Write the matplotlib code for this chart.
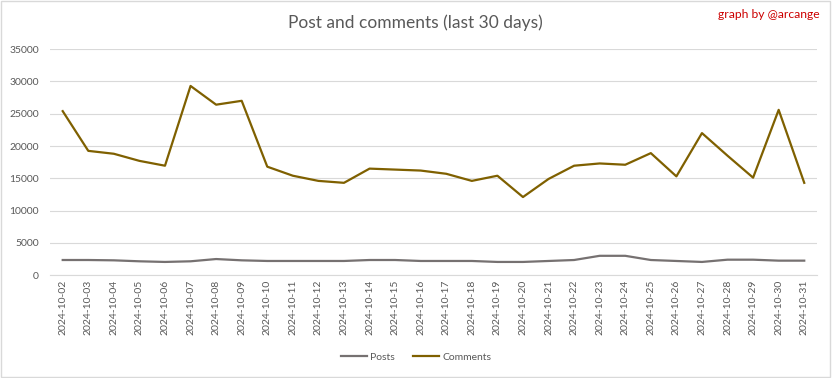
import matplotlib.pyplot as plt
from matplotlib.patches import Rectangle

dates = ["2024-10-%02d" % d for d in range(2, 32)]
posts = [2350, 2350, 2300, 2150, 2050, 2150, 2500, 2300, 2200, 2200,
         2200, 2200, 2350, 2350, 2200, 2200, 2200, 2050, 2050, 2200,
         2350, 3000, 3000, 2350, 2200, 2050, 2400, 2400, 2250, 2250]
comments = [25400, 19250, 18800, 17700, 16950, 29300, 26400, 27000, 16800, 15400,
            14600, 14300, 16500, 16350, 16200, 15700, 14600, 15400, 12100, 14900,
            16950, 17300, 17100, 18900, 15300, 22000, 18500, 15100, 25600, 14300]

plt.rcParams['font.family'] = ['Lato', 'DejaVu Sans']

fig = plt.figure(figsize=(8.32, 3.78), dpi=100)
ax = fig.add_axes([0.060, 0.272, 0.922, 0.598])

x = list(range(len(dates)))
ax.plot(x, posts, color="#767171", lw=1.6, label="Posts")
ax.plot(x, comments, color="#7f6000", lw=1.6, label="Comments")

ax.set_xlim(-0.5, len(dates) - 0.5)
ax.set_ylim(0, 35000)
ax.set_yticks(range(0, 35001, 5000))
ax.set_xticks(x)
ax.set_xticklabels(dates, rotation=90)
ax.tick_params(axis="both", length=0, colors="#595959", labelsize=7.5)
ax.tick_params(axis="y", pad=8)
ax.grid(axis="y", color="#d9d9d9", lw=0.8)
ax.set_axisbelow(True)
for s in ["top", "right", "left"]:
    ax.spines[s].set_visible(False)
ax.spines["bottom"].set_color("#d9d9d9")

fig.text(0.499, 0.94, "Post and comments (last 30 days)", ha="center", va="center",
         fontsize=12.5, color="#595959")
fig.text(0.985, 0.962, "graph by @arcange", ha="right", va="center",
         fontsize=8.7, color="#cc0000")

fig.legend(loc="center", bbox_to_anchor=(0.5, 0.055), ncol=2, frameon=False,
           fontsize=7.5, labelcolor="#595959", handlelength=2.5, columnspacing=1.8,
           handletextpad=0.3)

fig.patches.append(Rectangle((0.001, 0.002), 0.997, 0.995, transform=fig.transFigure,
                             fill=False, edgecolor="#d9d9d9", lw=1))

fig.savefig("out.png", dpi=100)
